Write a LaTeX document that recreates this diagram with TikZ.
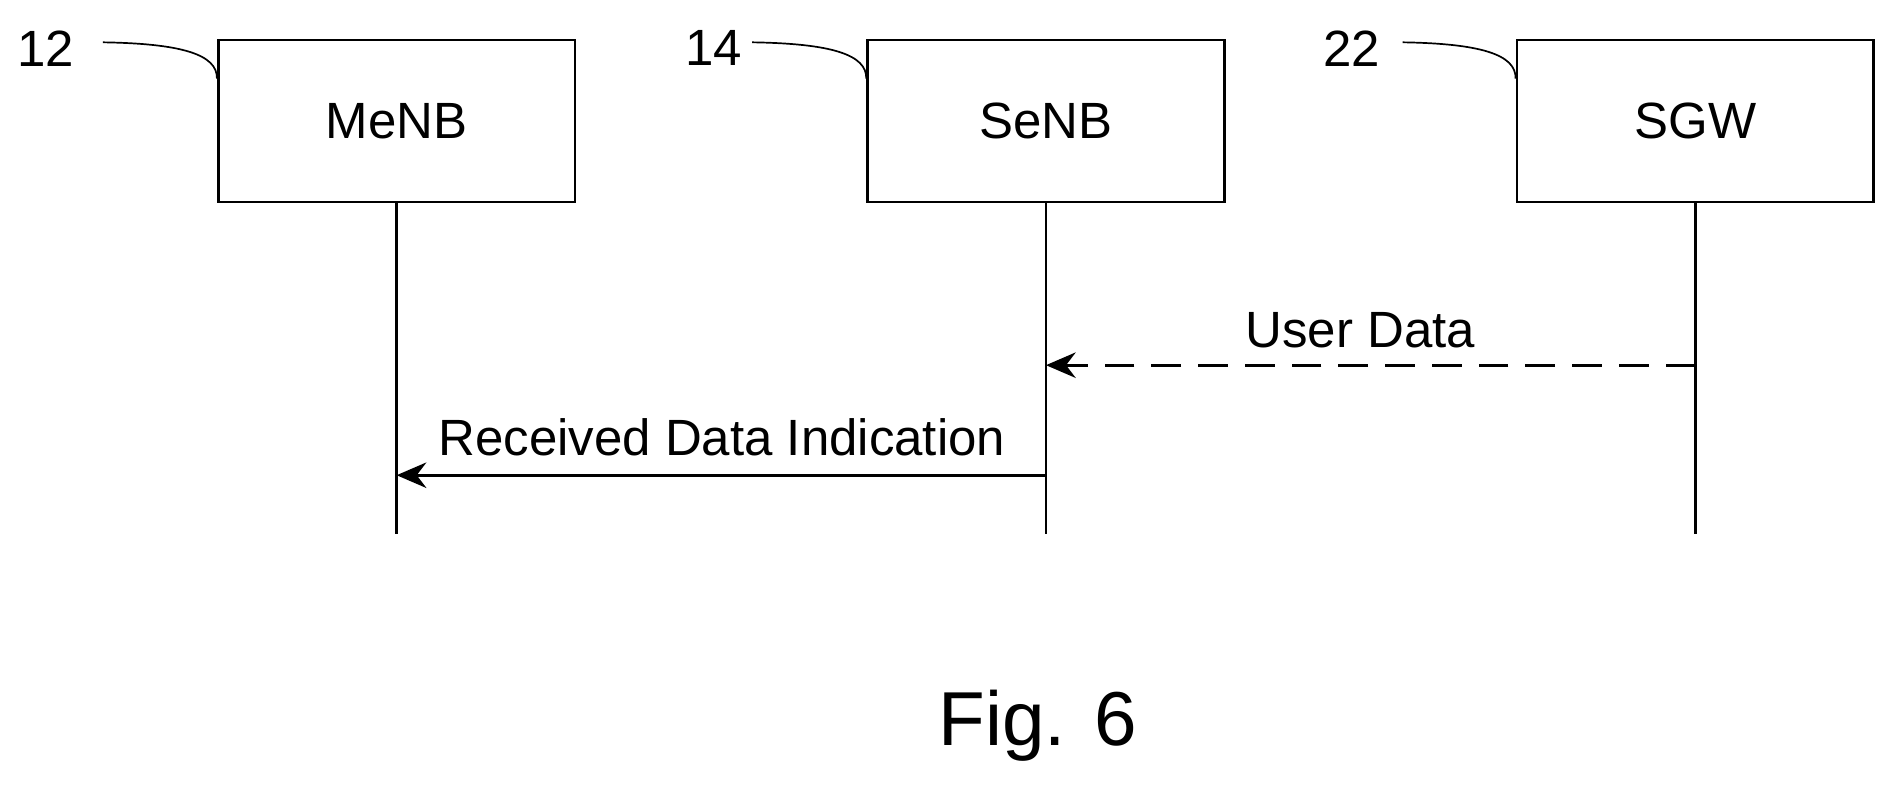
\documentclass[tikz,border=0pt]{standalone}
\usepackage{fontspec}
\setmainfont{Liberation Sans}
\usetikzlibrary{positioning,arrows.meta}
\tikzset{
  entity/.style={draw,line width=1.3pt,minimum width=5.9cm,minimum height=2.68cm,font=\fontsize{24}{28}\selectfont},
  lifeline/.style={line width=1.3pt},
  msg/.style={line width=1.3pt,-{Stealth[length=14pt,width=12pt]}},
  lbl/.style={font=\fontsize{24}{28}\selectfont},
  refnum/.style={font=\fontsize{24}{28}\selectfont}
}
\begin{document}
\begin{tikzpicture}[x=0.02cm,y=-0.02cm]
  \useasboundingbox (0,0) rectangle (1568,652);
  % entities
  \node[entity] (menb) at (328,100) {MeNB};
  \node[entity] (senb) at (865,100) {SeNB};
  \node[entity] (sgw) at (1402,100) {SGW};
  % lifeline ends
  \coordinate (menbEnd) at (328,442);
  \coordinate (senbEnd) at (865,442);
  \coordinate (sgwEnd) at (1402,442);
  \draw[lifeline] (menb.south) -- (menbEnd);
  \draw[lifeline] (senb.south) -- (senbEnd);
  \draw[lifeline] (sgw.south) -- (sgwEnd);
  % messages
  \coordinate (udFrom) at (1402,302);
  \coordinate (udTo) at (865,302);
  \draw[msg,dash pattern=on 14pt off 8pt] (udFrom) -- (udTo);
  \node[lbl] (ud) at (1125,273) {User Data};
  \coordinate (rdFrom) at (865,393);
  \coordinate (rdTo) at (328,393);
  \draw[msg] (rdFrom) -- (rdTo);
  \node[lbl] (rd) at (597,362) {Received Data Indication};
  % reference numerals
  \node[refnum] (n12) at (38,40) {12};
  \node[refnum] (n14) at (590,40) {14};
  \node[refnum] (n22) at (1118,40) {22};
  \draw[line width=0.8pt] (85,35) .. controls (150,36) and (180,45) .. (menb.north west |- 0,65);
  \draw[line width=0.8pt] (622,35) .. controls (687,36) and (717,45) .. (senb.north west |- 0,65);
  \draw[line width=0.8pt] (1160,35) .. controls (1224,36) and (1254,45) .. (sgw.north west |- 0,65);
  \node[font=\fontsize{36}{40}\selectfont] (fig) at (858,600) {Fig. 6};
\end{tikzpicture}
\end{document}
